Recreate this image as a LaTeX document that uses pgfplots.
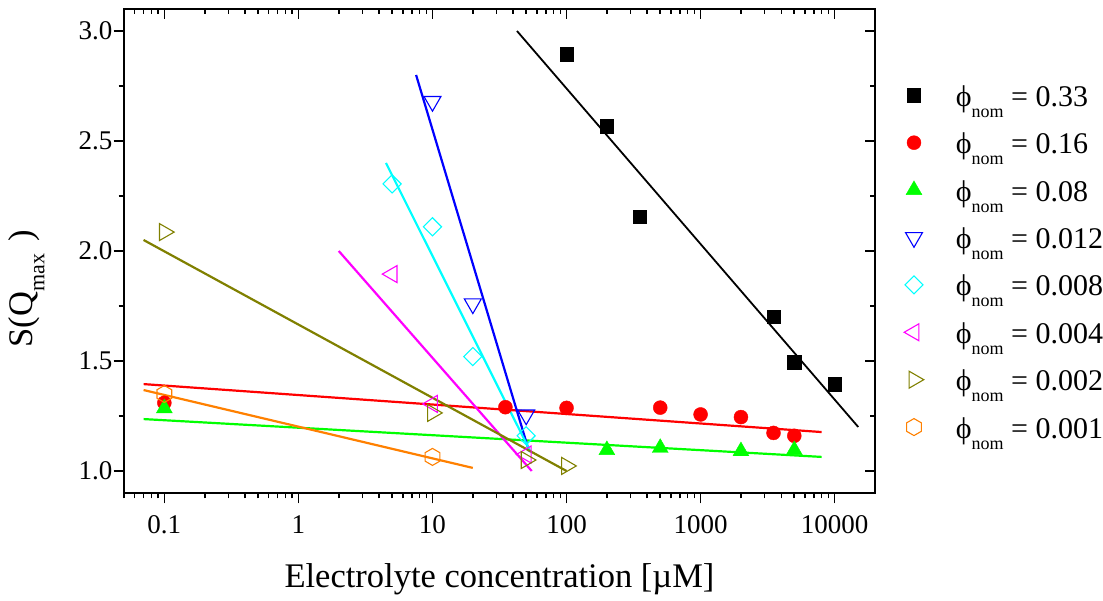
\documentclass[border=0pt]{standalone}
\usepackage{fontspec}
\setmainfont{Liberation Serif}
\usepackage{pgfplots}
\pgfplotsset{compat=1.18}
\usetikzlibrary{plotmarks}

\definecolor{cRed}{RGB}{255,0,0}
\definecolor{cGreen}{RGB}{0,255,0}
\definecolor{cBlue}{RGB}{0,0,255}
\definecolor{cCyan}{RGB}{0,255,255}
\definecolor{cMag}{RGB}{255,0,255}
\definecolor{cOlive}{RGB}{128,128,0}
\definecolor{cOrange}{RGB}{255,128,0}

\pgfdeclareplotmark{hexagon}{%
  \pgfpathmoveto{\pgfqpointpolar{90}{\pgfplotmarksize}}%
  \pgfpathlineto{\pgfqpointpolar{150}{\pgfplotmarksize}}%
  \pgfpathlineto{\pgfqpointpolar{210}{\pgfplotmarksize}}%
  \pgfpathlineto{\pgfqpointpolar{270}{\pgfplotmarksize}}%
  \pgfpathlineto{\pgfqpointpolar{330}{\pgfplotmarksize}}%
  \pgfpathlineto{\pgfqpointpolar{30}{\pgfplotmarksize}}%
  \pgfpathclose
  \pgfusepathqstroke
}

\newcommand\lsub[1]{\raisebox{-11pt}{\fontsize{18}{20}\selectfont #1}}
\newcommand\ysub[1]{\raisebox{-12pt}{\makebox[50pt][l]{\fontsize{22}{24}\selectfont #1}}}
\newcommand\ph{\symbol{"03D5}}
\newcommand\ent[1]{\ph\lsub{nom} = #1}

\begin{document}
\begin{tikzpicture}
\begin{axis}[
  at={(0,0)}, anchor=south west,
  width=751pt, height=484pt, scale only axis,
  xmode=log, xmin=0.05, xmax=20000, ymin=0.9, ymax=3.1,
  xtick={0.1,1,10,100,1000,10000},
  xticklabels={\textrm{0.1},\textrm{1},\textrm{10},\textrm{100},\textrm{1000},\textrm{10000}},
  minor xtick={0.05,0.06,0.07,0.08,0.09,0.2,0.3,0.4,0.5,0.6,0.7,0.8,0.9,2,3,4,5,6,7,8,9,20,30,40,50,60,70,80,90,200,300,400,500,600,700,800,900,2000,3000,4000,5000,6000,7000,8000,9000},
  ytick={1,1.5,2,2.5,3},
  yticklabels={\textrm{1.0},\textrm{1.5},\textrm{2.0},\textrm{2.5},\textrm{3.0}},
  minor ytick={1.25,1.75,2.25,2.75},
  xtick pos=lower, ytick pos=left,
  tick align=outside,
  major tick length=10.5pt, minor tick length=5.5pt,
  axis line style={line width=2pt},
  major tick style={line width=1.6pt, black},
  minor tick style={line width=1.6pt, black},
  tick label style={font=\fontsize{27}{30}\selectfont, inner sep=0pt},
  xticklabel style={anchor=base, yshift=-30.5pt},
  yticklabel style={anchor=east, xshift=-1pt},
  xlabel={Electrolyte concentration [µM]},
  ylabel={S(Q\ysub{max})},
  label style={font=\fontsize{34.5}{40}\selectfont, inner sep=0pt},
  xlabel style={at={(axis description cs:0.5,-0.196)}, anchor=base},
  ylabel style={at={(axis description cs:-0.122,0.422)}, anchor=base},
  legend cell align=left,
  legend style={draw=none, fill=none, at={(rel axis cs:1.0386,0.849)}, anchor=north west,
    inner sep=0pt, row sep=21.4pt, font=\fontsize{30}{34}\selectfont,
    nodes={inner sep=0pt, text height=24pt, text depth=2pt},
    /tikz/every odd column/.append style={column sep=32pt}},
]
% fitted lines
\addplot[forget plot, black, line width=1.8pt] coordinates {(42.7,3.0) (15000,1.2)};
\addplot[forget plot, cRed, line width=2.2pt] coordinates {(0.07,1.395) (8000,1.177)};
\addplot[forget plot, cGreen, line width=2.2pt] coordinates {(0.07,1.236) (8000,1.064)};
\addplot[forget plot, cBlue, line width=2.2pt] coordinates {(7.55,2.8) (52.5,1.09)};
\addplot[forget plot, cCyan, line width=2.2pt] coordinates {(4.5,2.4) (54,1.086)};
\addplot[forget plot, cMag, line width=2.2pt] coordinates {(2.0,2.0) (55,1.0)};
\addplot[forget plot, cOlive, line width=2.2pt] coordinates {(0.07,2.05) (100,1.0)};
\addplot[forget plot, cOrange, line width=2.2pt] coordinates {(0.07,1.368) (20,1.014)};
% data
\addplot[only marks, mark=square*, mark size=6.7pt, black] coordinates {
 (100,2.895) (200,2.568) (350,2.155) (3500,1.70) (5000,1.495) (10000,1.395)};
\addlegendentry{\ent{0.33}}
\addplot[only marks, mark=*, mark size=7pt, cRed] coordinates {
 (0.1,1.31) (35,1.29) (100,1.287) (500,1.288) (1000,1.257) (2000,1.245) (3500,1.173) (5000,1.16)};
\addlegendentry{\ent{0.16}}
\addplot[only marks, mark=triangle*, mark size=9.2pt, cGreen] coordinates {
 (0.1,1.285) (200,1.095) (500,1.105) (2000,1.09) (5000,1.095)};
\addlegendentry{\ent{0.08}}
\addplot[only marks, mark=triangle, mark size=9.8pt, mark options={rotate=180, line width=1.1pt}, cBlue] coordinates {
 (10,2.68) (20,1.76) (50,1.255)};
\addlegendentry{\ent{0.012}}
\addplot[only marks, mark=square, mark size=6.4pt, mark options={rotate=45, line width=1.1pt}, cCyan] coordinates {
 (5,2.305) (10,2.11) (20,1.52) (50,1.16)};
\addlegendentry{\ent{0.008}}
\addplot[only marks, mark=triangle, mark size=9.8pt, mark options={rotate=90, line width=1.1pt}, cMag] coordinates {
 (5,1.895) (10,1.305) (50,1.075)};
\addlegendentry{\ent{0.004}}
\addplot[only marks, mark=triangle, mark size=9.8pt, mark options={rotate=-90, line width=1.1pt}, cOlive] coordinates {
 (0.1,2.086) (10,1.264) (50,1.05) (100,1.023)};
\addlegendentry{\ent{0.002}}
\addplot[only marks, mark=hexagon, mark size=8.5pt, mark options={line width=1.1pt}, cOrange] coordinates {
 (0.1,1.35) (10,1.064)};
\addlegendentry{\ent{0.001}}
\end{axis}
\begin{axis}[
  at={(0,0)}, anchor=south west,
  width=751pt, height=484pt, scale only axis,
  xmode=log, xmin=0.05, xmax=20000, ymin=0.9, ymax=3.1,
  xtick={0.1,1,10,100,1000,10000},
  minor xtick={0.05,0.06,0.07,0.08,0.09,0.2,0.3,0.4,0.5,0.6,0.7,0.8,0.9,2,3,4,5,6,7,8,9,20,30,40,50,60,70,80,90,200,300,400,500,600,700,800,900,2000,3000,4000,5000,6000,7000,8000,9000},
  ytick={1,1.5,2,2.5,3},
  minor ytick={1.25,1.75,2.25,2.75},
  xticklabels={}, yticklabels={},
  xtick pos=upper, ytick pos=right,
  tick align=inside,
  major tick length=10.5pt, minor tick length=5.5pt,
  axis line style={line width=2pt},
  major tick style={line width=1.6pt, black},
  minor tick style={line width=1.6pt, black},
]
\end{axis}
\pgfresetboundingbox
\path[use as bounding box] (-124pt,-108pt) rectangle (979pt,493pt);
\end{tikzpicture}
\end{document}
